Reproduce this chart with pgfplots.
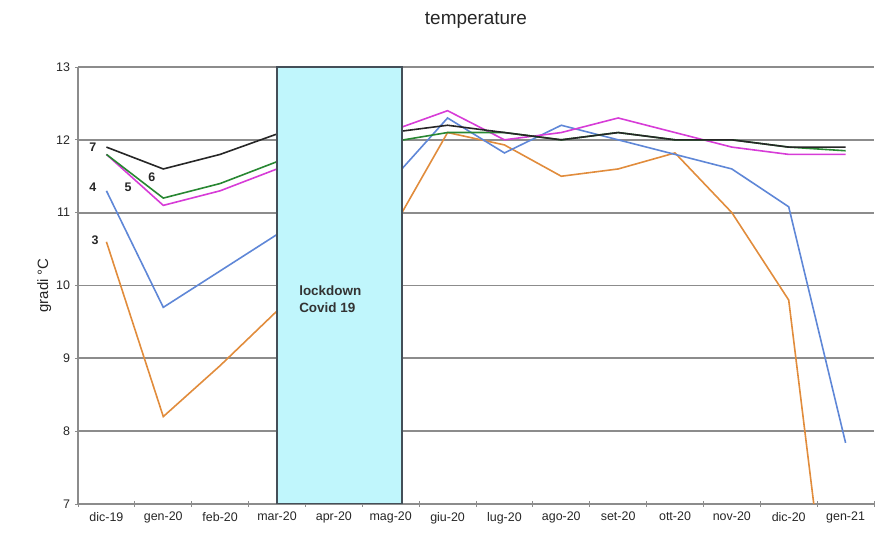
\documentclass[border=0pt]{standalone}
\usepackage{pgfplots}
\pgfplotsset{compat=1.18}
\usepackage{fontspec}
\setmainfont{Liberation Sans}
\definecolor{cOrange}{RGB}{225,140,60}
\definecolor{cBlue}{RGB}{95,135,215}
\definecolor{cMag}{RGB}{215,60,215}
\definecolor{cGreen}{RGB}{40,135,50}
\definecolor{cBox}{RGB}{192,246,252}
\definecolor{cGrid}{RGB}{140,140,140}
\begin{document}
\begin{tikzpicture}
\begin{axis}[
  scale only axis,
  width=796bp, height=437bp,
  xmin=-0.5, xmax=13.5,
  ymin=7, ymax=13,
  xtick={0,...,13},
  xticklabels={dic-19,gen-20,feb-20,mar-20,apr-20,mag-20,giu-20,lug-20,ago-20,set-20,ott-20,nov-20,dic-20,gen-21},
  major x tick style={draw=none},
  minor xtick={-0.5,0.5,...,13.5},
  minor tick length=6bp,
  ytick={7,...,13},
  major tick length=5bp,
  tick align=center,
  tick style={cGrid, line width=0.9bp},
  axis x line*=bottom,
  axis y line*=left,
  axis line style={cGrid, line width=1.1bp, -},
  ymajorgrids,
  grid style={cGrid, line width=1.8bp},
  ticklabel style={font=\fontsize{12.5}{14}\selectfont, text=black!85},
  /pgf/number format/assume math mode=true,
  xticklabel style={yshift=-2bp},
  yticklabel style={xshift=-2bp},
  ylabel={gradi °C},
  ylabel style={font=\fontsize{15}{17}\selectfont, text=black!85, xshift=0bp, yshift=-2bp},
  title={temperature},
  title style={font=\fontsize{19}{22}\selectfont, text=black!85, yshift=29bp},
  clip=true,
  every axis plot/.append style={line width=1.6bp, mark=none},
]
\addplot[cOrange] coordinates {(0,10.6)(1,8.2)(2,8.9)(3,9.65)(4,10.2)(5,10.73)(6,12.1)(7,11.93)(8,11.5)(9,11.6)(10,11.82)(11,11.0)(12,9.8)(13,3.45)};
\addplot[cBlue] coordinates {(0,11.3)(1,9.7)(2,10.2)(3,10.7)(4,11.1)(5,11.43)(6,12.3)(7,11.82)(8,12.2)(9,12.0)(10,11.8)(11,11.6)(12,11.08)(13,7.84)};
\addplot[cMag] coordinates {(0,11.8)(1,11.1)(2,11.3)(3,11.6)(4,11.9)(5,12.12)(6,12.4)(7,12.0)(8,12.1)(9,12.3)(10,12.1)(11,11.9)(12,11.8)(13,11.8)};
\addplot[cGreen] coordinates {(0,11.8)(1,11.2)(2,11.4)(3,11.7)(4,11.9)(5,11.97)(6,12.1)(7,12.1)(8,12.0)(9,12.1)(10,12.0)(11,12.0)(12,11.9)(13,11.85)};
\addplot[black!85] coordinates {(0,11.9)(1,11.6)(2,11.8)(3,12.08)(4,12.1)(5,12.1)(6,12.2)(7,12.1)(8,12.0)(9,12.1)(10,12.0)(11,12.0)(12,11.9)(13,11.9)};
\draw[fill=cBox, draw=black!75!cyan, line width=1.3bp] (axis cs:3,7) rectangle (axis cs:5.2,13);
\node[anchor=north west, align=left, font=\fontsize{13.5}{17}\selectfont\bfseries, text=black!80] at (axis cs:3.33,10.05) {lockdown\\Covid 19};
\begin{scope}[every node/.style={font=\fontsize{12.5}{14}\selectfont\bfseries, text=black!85}]
\node at (axis cs:-0.24,11.9) {7};
\node at (axis cs:-0.24,11.35) {4};
\node at (axis cs:0.38,11.35) {5};
\node at (axis cs:0.8,11.49) {6};
\node at (axis cs:-0.2,10.62) {3};
\end{scope}
\end{axis}
\pgfresetboundingbox
\useasboundingbox ([shift={(-78bp,-32bp)}]current axis.south west) rectangle ([shift={(1bp,67bp)}]current axis.north east);
\end{tikzpicture}
\end{document}
